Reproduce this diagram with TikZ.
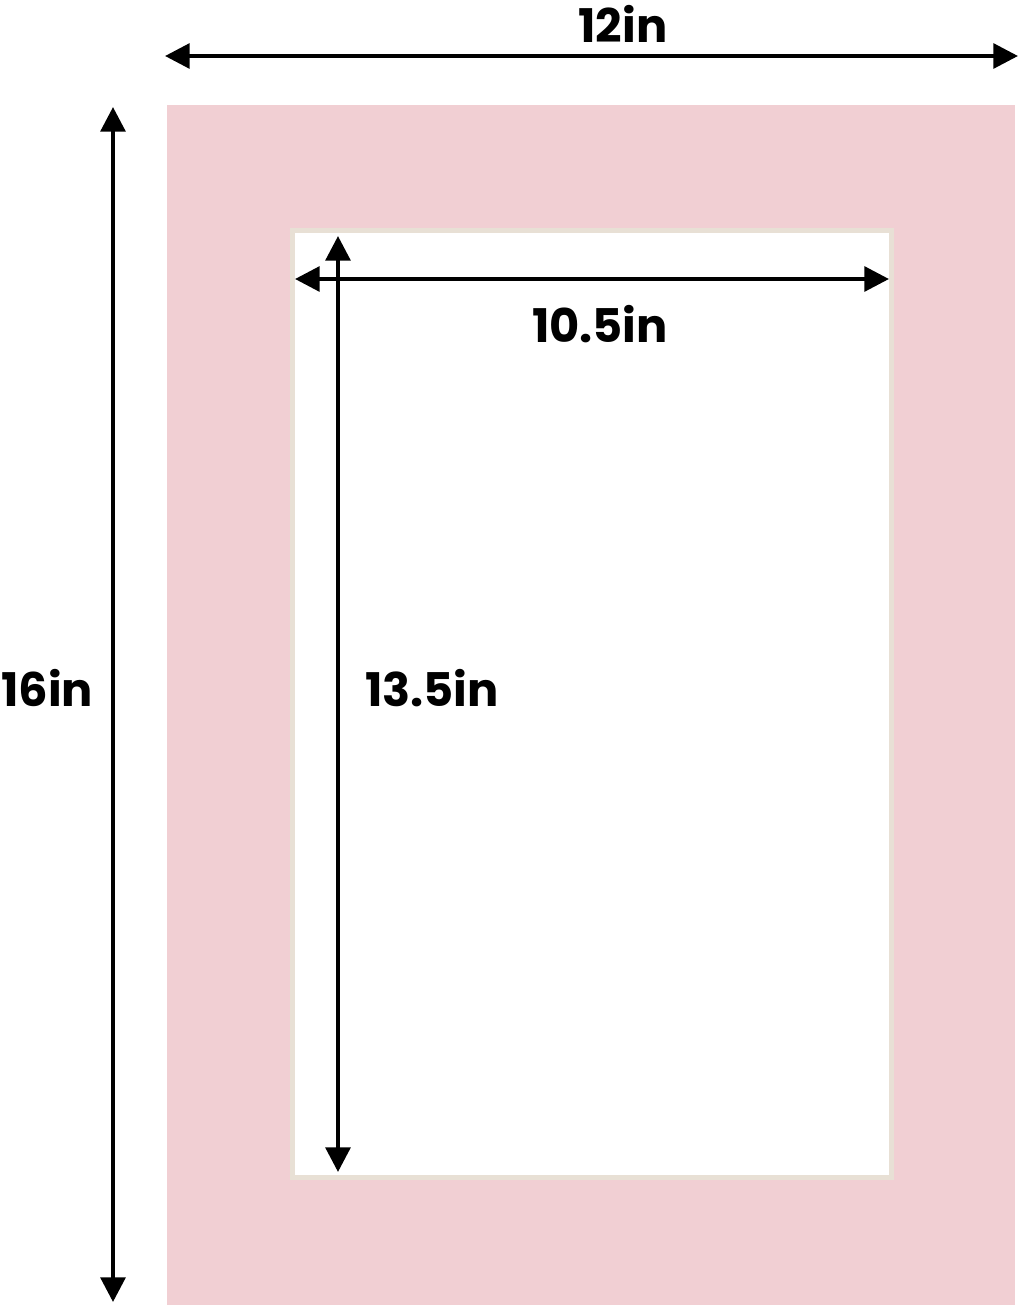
\documentclass[tikz,border=0pt]{standalone}
\usepackage{fontspec}
\setmainfont{Poppins}
\usetikzlibrary{arrows.meta}
\definecolor{matpink}{RGB}{241,207,211}
\definecolor{bevelcream}{RGB}{232,224,213}
\begin{document}
\begin{tikzpicture}[x=0.025cm,y=-0.025cm]
  \tikzstyle{dim}=[draw=black,line width=2.9pt,{Triangle[length=17.5pt,width=17.5pt]}-{Triangle[length=17.5pt,width=17.5pt]}]
  \tikzstyle{size}=[font=\bfseries\fontsize{33}{33}\selectfont,inner sep=0pt,anchor=base]
  \useasboundingbox (0,0) rectangle (1024,1309);
  % mat board and opening
  \fill[matpink] (167,105) rectangle (1015,1305);
  \fill[bevelcream] (290,228) rectangle (894,1180);
  \fill[white] (295,233) rectangle (889,1175);
  % end points
  \coordinate (outerleft)  at (165,56);
  \coordinate (outerright) at (1018,56);
  \coordinate (outertop)   at (113,107);
  \coordinate (outerbot)   at (113,1302);
  \coordinate (innerleft)  at (295,279);
  \coordinate (innerright) at (889,279);
  \coordinate (innertop)   at (338,236);
  \coordinate (innerbot)   at (338,1172);
  % arrows
  \draw[dim] (outerleft) -- (outerright);
  \draw[dim] (outertop) -- (outerbot);
  \draw[dim] (innerleft) -- (innerright);
  \draw[dim] (innertop) -- (innerbot);
  % labels
  \node[size] (widthlabel)  at (623,42)  {12in};
  \node[size] (heightlabel) at (47,706)  {16in};
  \node[size] (openwlabel)  at (600,342) {10.5in};
  \node[size] (openhlabel)  at (432,706) {13.5in};
\end{tikzpicture}
\end{document}
